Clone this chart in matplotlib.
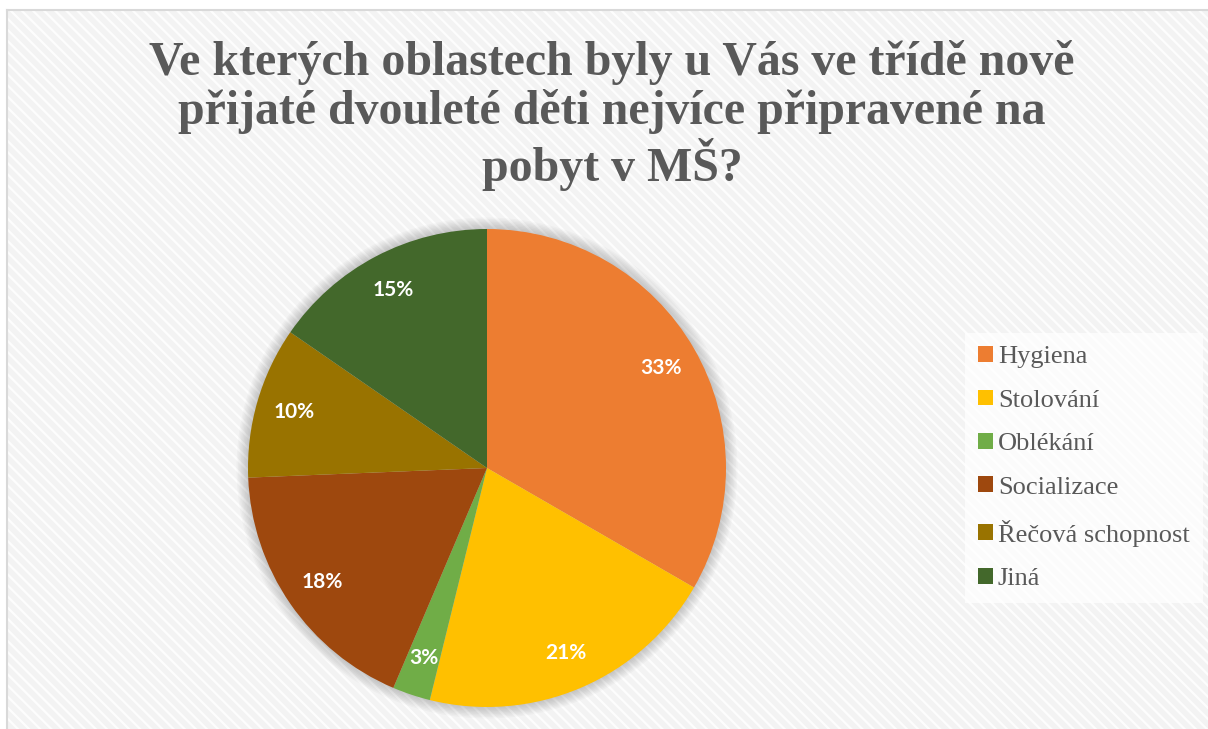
"""
Pie chart: which areas newly admitted two-year-olds were best prepared for.
"""
import matplotlib
import matplotlib.pyplot as plt
from matplotlib.patches import Rectangle, Circle
from matplotlib.lines import Line2D

matplotlib.use('Agg')

# data (answer counts, 39 respondents)
categories = ['Hygiena', 'Stolování', 'Oblékání', 'Socializace', 'Řečová schopnost', 'Jiná']
counts = [13, 8, 1, 7, 4, 6]
colors = ['#ED7D31', '#FFC000', '#70AD47', '#9E480E', '#997300', '#43682B']
title = 'Ve kterých oblastech byly u Vás ve třídě nově\npřijaté dvouleté děti nejvíce připravené na\npobyt v MŠ?'

W, H = 1208, 729
plt.rcParams['hatch.linewidth'] = 1.6
fig = plt.figure(figsize=(W / 100, H / 100), dpi=100)
fig.patch.set_facecolor('white')

# striped chart area background, with border top/left
bg = Rectangle((7 / W, 0), 1.0, 1 - 10 / H, transform=fig.transFigure,
               facecolor='#f3f3f3', edgecolor='#fdfdfd', linewidth=0,
               hatch='\\\\\\', zorder=-2)
fig.patches.append(bg)
fig.lines.append(Line2D([7 / W, 1], [1 - 10 / H, 1 - 10 / H], transform=fig.transFigure,
                        color='#d9d9d9', linewidth=1.5, zorder=-1))
fig.lines.append(Line2D([7 / W, 7 / W], [0, 1 - 10 / H], transform=fig.transFigure,
                        color='#d9d9d9', linewidth=1.5, zorder=-1))

# title
fig.text(612 / W, 1 - 40 / H, title, ha='center', va='top', multialignment='center',
         fontsize=34.5, fontweight='bold', family='Liberation Serif', color='#595959',
         linespacing=1.1)

# pie
cx, cy, r = 487, 468, 239
ax = fig.add_axes([(cx - r) / W, (H - cy - r) / H, 2 * r / W, 2 * r / H])
for k in range(8):
    ax.add_patch(Circle((0, 0), 1.0 + 0.006 * (k + 1), facecolor='#000000',
                        alpha=0.025, linewidth=0, zorder=0, clip_on=False))
wedges, texts, autotexts = ax.pie(
    counts, colors=colors, startangle=90, counterclock=False,
    autopct='%.0f%%', pctdistance=0.84,
    wedgeprops=dict(linewidth=0),
    textprops=dict(color='white', fontsize=15, fontweight='bold', family='Lato'))
for w in wedges:
    w.set_zorder(2)
ax.set_xlim(-1, 1)
ax.set_ylim(-1, 1)
ax.set_aspect('equal')
ax.axis('off')

# legend
leg = fig.legend(wedges, categories, loc='upper left',
                 bbox_to_anchor=(965 / W, 1 - 333 / H),
                 prop=dict(family='Liberation Serif', size=19),
                 labelcolor='#595959', frameon=True, fancybox=False,
                 facecolor='white', edgecolor='none', framealpha=0.75,
                 handlelength=0.55, handleheight=0.55, handletextpad=0.2,
                 labelspacing=0.8, borderpad=0.5, borderaxespad=0)

fig.savefig('out.png', dpi=100)
